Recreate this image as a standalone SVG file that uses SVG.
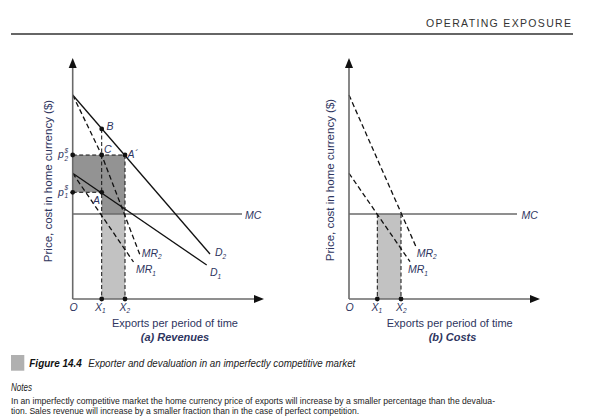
<svg xmlns="http://www.w3.org/2000/svg" width="605" height="420" viewBox="0 0 605 420">
<style>
text{font-family:"Liberation Sans",Arial,sans-serif;}
.lbl{font-size:10.5px;font-style:italic;fill:#2e3560;}
.sub{font-size:6.5px;font-style:italic;fill:#2e3560;}
.ax{font-size:11px;fill:#2e3560;}
.ylab{font-size:11.5px;fill:#2e3560;}
.axis{stroke:#6a6a6a;stroke-width:1.6;fill:none;}
.mc{stroke:#6a6a6a;stroke-width:1.4;fill:none;}
.solid{stroke:#111;stroke-width:1.3;fill:none;}
.dash{stroke:#111;stroke-width:1.3;fill:none;stroke-dasharray:5 3;}
.dash2{stroke:#111;stroke-width:1;fill:none;stroke-dasharray:4 2.5;}
.dot{fill:#111;}
.note{font-size:9.5px;fill:#222;}
</style>
<defs>
<polygon id="arrUp" points="0,-5 4,5 -4,5" fill="#111"/>
<polygon id="arrRight" points="5,0 -5,-4 -5,4" fill="#111"/>
</defs>

<g id="header">
<text x="426" y="26.5" font-size="10.5" fill="#333" textLength="145" lengthAdjust="spacing">OPERATING EXPOSURE</text>
<line x1="11" y1="34" x2="573" y2="34" stroke="#333" stroke-width="1.4"/>
</g>

<!-- Panel (a) -->
<g id="panel-a">
<g id="shading-a">
<polygon points="72.7,155 125,155 125,214 101.7,214 101.7,192.3 72.7,192.3" fill="#939393"/>
<rect x="101.7" y="214" width="23.3" height="85" fill="#c2c2c2"/>
</g>
<g id="connectors-a">
<line class="mc" x1="72.7" y1="214" x2="242" y2="214"/>
<line id="D2" class="solid" x1="72.7" y1="95" x2="210" y2="254"/>
<line id="D1" class="solid" x1="72.7" y1="173.3" x2="206.7" y2="265"/>
<polyline id="MR2" class="dash" points="72.7,95 101.7,155 140,255"/>
<line id="MR1" class="dash" x1="72.7" y1="173.3" x2="133.5" y2="262"/>
<line class="dash2" x1="72.7" y1="155" x2="125" y2="155"/>
<line class="dash2" x1="72.7" y1="192.3" x2="101.7" y2="192.3"/>
<line class="dash2" x1="101.7" y1="129" x2="101.7" y2="299"/>
<line class="dash2" x1="125" y1="155" x2="125" y2="299"/>
</g>
<g id="axes-a">
<line class="axis" x1="72.7" y1="299" x2="72.7" y2="64"/>
<line class="axis" x1="72.7" y1="299" x2="256" y2="299"/>
<use href="#arrUp" x="72.7" y="63"/>
<use href="#arrRight" x="259" y="299"/>
</g>
<g id="points-a">
<circle class="dot" cx="101.7" cy="129" r="2.4"/>
<circle class="dot" cx="101.7" cy="155" r="2.4"/>
<circle class="dot" cx="125" cy="155" r="2.4"/>
<circle class="dot" cx="72.7" cy="155" r="2.4"/>
<circle class="dot" cx="72.7" cy="192.3" r="2.4"/>
<circle class="dot" cx="101.7" cy="192.3" r="2.4"/>
<circle class="dot" cx="101.7" cy="299" r="2.4"/>
<circle class="dot" cx="125" cy="299" r="2.4"/>
</g>
<g id="labels-a">
<text class="lbl" x="106.5" y="129.5">B</text>
<text class="lbl" x="104" y="153">C</text>
<text class="lbl" x="127.5" y="158">A´</text>
<text class="lbl" x="93" y="204">A</text>
<text class="lbl" x="58" y="158">p</text>
<text class="sub" x="64.5" y="152.5">$</text>
<text class="sub" x="64.5" y="160.5">2</text>
<text class="lbl" x="58" y="195.5">p</text>
<text class="sub" x="64.5" y="190">$</text>
<text class="sub" x="64.5" y="198">1</text>
<text class="lbl" x="245" y="218.5">MC</text>
<text class="lbl" x="215" y="256">D<tspan class="sub" dy="2.5">2</tspan></text>
<text class="lbl" x="210" y="276">D<tspan class="sub" dy="2.5">1</tspan></text>
<text class="lbl" x="141.7" y="256.5">MR<tspan class="sub" dy="2.5">2</tspan></text>
<text class="lbl" x="136" y="273">MR<tspan class="sub" dy="2.5">1</tspan></text>
<text class="lbl" x="69.5" y="310.5">O</text>
<text class="lbl" x="95" y="310.5">X<tspan class="sub" dy="2.5">1</tspan></text>
<text class="lbl" x="119.5" y="310.5">X<tspan class="sub" dy="2.5">2</tspan></text>
<text class="ax" x="175" y="327" text-anchor="middle">Exports per period of time</text>
<text class="ax" x="175" y="340.5" text-anchor="middle" font-weight="bold" font-style="italic">(a) Revenues</text>
<text class="ylab" transform="translate(52,181) rotate(-90)" text-anchor="middle">Price, cost in home currency ($)</text>
</g>
</g>

<!-- Panel (b) -->
<g id="panel-b">
<g id="shading-b">
<rect x="377.3" y="214" width="23.7" height="85" fill="#c2c2c2"/>
</g>
<g id="connectors-b">
<line class="mc" x1="349" y1="214" x2="517" y2="214"/>
<line id="MR2b" class="dash" x1="349" y1="95" x2="416.7" y2="248.3"/>
<line id="MR1b" class="dash" x1="349" y1="173.3" x2="410" y2="261.7"/>
<line class="dash2" x1="377.3" y1="214" x2="377.3" y2="299"/>
<line class="dash2" x1="401" y1="214" x2="401" y2="299"/>
</g>
<g id="axes-b">
<line class="axis" x1="349" y1="299" x2="349" y2="64"/>
<line class="axis" x1="349" y1="299" x2="532" y2="299"/>
<use href="#arrUp" x="349" y="63"/>
<use href="#arrRight" x="535" y="299"/>
</g>
<g id="points-b">
<circle class="dot" cx="377.3" cy="299" r="2.4"/>
<circle class="dot" cx="401" cy="299" r="2.4"/>
</g>
<g id="labels-b">
<text class="lbl" x="521.5" y="218.5">MC</text>
<text class="lbl" x="416.7" y="256.5">MR<tspan class="sub" dy="2.5">2</tspan></text>
<text class="lbl" x="408" y="273">MR<tspan class="sub" dy="2.5">1</tspan></text>
<text class="lbl" x="345.5" y="310.5">O</text>
<text class="lbl" x="371.5" y="310.5">X<tspan class="sub" dy="2.5">1</tspan></text>
<text class="lbl" x="396" y="310.5">X<tspan class="sub" dy="2.5">2</tspan></text>
<text class="ax" x="449.7" y="327" text-anchor="middle">Exports per period of time</text>
<text class="ax" x="452.5" y="340.5" text-anchor="middle" font-weight="bold" font-style="italic">(b) Costs</text>
<text class="ylab" transform="translate(333.5,180) rotate(-90)" text-anchor="middle">Price, cost in home currency ($)</text>
</g>
</g>

<g id="caption">
<rect x="11" y="355" width="13.3" height="15.7" fill="#b0b0b0"/>
<text x="29.3" y="366.7" font-size="11" font-weight="bold" font-style="italic" fill="#111" textLength="52.5" lengthAdjust="spacingAndGlyphs">Figure 14.4</text>
<text x="88.3" y="366.7" font-size="11" font-style="italic" fill="#222" textLength="267" lengthAdjust="spacingAndGlyphs">Exporter and devaluation in an imperfectly competitive market</text>
<text x="11" y="391" font-size="10" font-style="italic" fill="#222" textLength="21" lengthAdjust="spacingAndGlyphs">Notes</text>
<text class="note" x="11" y="404" textLength="484" lengthAdjust="spacingAndGlyphs">In an imperfectly competitive market the home currency price of exports will increase by a smaller percentage than the devalua-</text>
<text class="note" x="11" y="413.5" textLength="348" lengthAdjust="spacingAndGlyphs">tion. Sales revenue will increase by a smaller fraction than in the case of perfect competition.</text>
</g>
</svg>
